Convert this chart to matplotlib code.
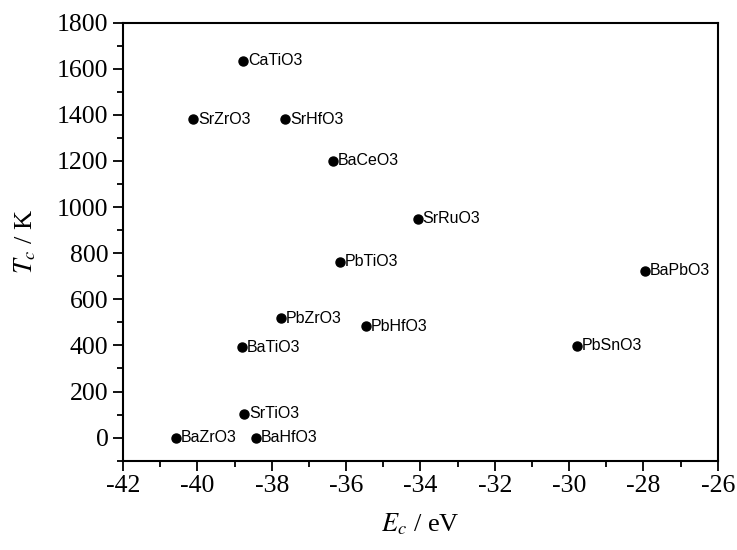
import numpy as np
import matplotlib.pyplot as plt
from matplotlib.ticker import MultipleLocator

# compound, cohesive energy (eV), transition temperature (K)
names = ["CaTiO3", "SrZrO3", "SrHfO3", "BaCeO3", "SrRuO3", "PbTiO3", "BaPbO3",
         "PbZrO3", "PbHfO3", "BaTiO3", "PbSnO3", "SrTiO3", "BaZrO3", "BaHfO3"]
ec = [-38.77, -40.12, -37.64, -36.35, -34.07, -36.16, -27.96,
      -37.75, -35.47, -38.80, -29.80, -38.74, -40.58, -38.42]
tc = [1635, 1380, 1380, 1200, 950, 763, 724,
      517, 484, 391, 398, 104, 0, 0]

plt.rcParams['font.family'] = ['Liberation Serif', 'DejaVu Serif']
plt.rcParams['mathtext.fontset'] = 'stix'
plt.rcParams['axes.unicode_minus'] = False

fig = plt.figure(figsize=(7.37, 5.5), dpi=100)
ax = fig.add_axes([0.167, 0.1624, 0.807, 0.7966])

ax.plot(ec, tc, 'o', color='black', markersize=6.5, linestyle='none')
for n, x, y in zip(names, ec, tc):
    ax.annotate(n, (x, y), xytext=(3.5, 0), textcoords='offset points',
                va='center', ha='left', fontsize=11.5, family='Liberation Sans')

ax.set_xlim(-42, -26)
ax.set_ylim(-100, 1800)
ax.xaxis.set_major_locator(MultipleLocator(2))
ax.xaxis.set_minor_locator(MultipleLocator(1))
ax.yaxis.set_major_locator(MultipleLocator(200))
ax.yaxis.set_minor_locator(MultipleLocator(100))
ax.tick_params(which='major', direction='out', length=7, width=1.3, labelsize=18.5)
ax.tick_params(which='minor', direction='out', length=4, width=1.3)
for s in ax.spines.values():
    s.set_linewidth(1.5)

ax.set_xlabel(r'$E_c$ / eV', fontsize=19, labelpad=10)
ax.set_ylabel(r'$T_c$ / K', fontsize=19, labelpad=14)

fig.savefig('out.png', dpi=100)
